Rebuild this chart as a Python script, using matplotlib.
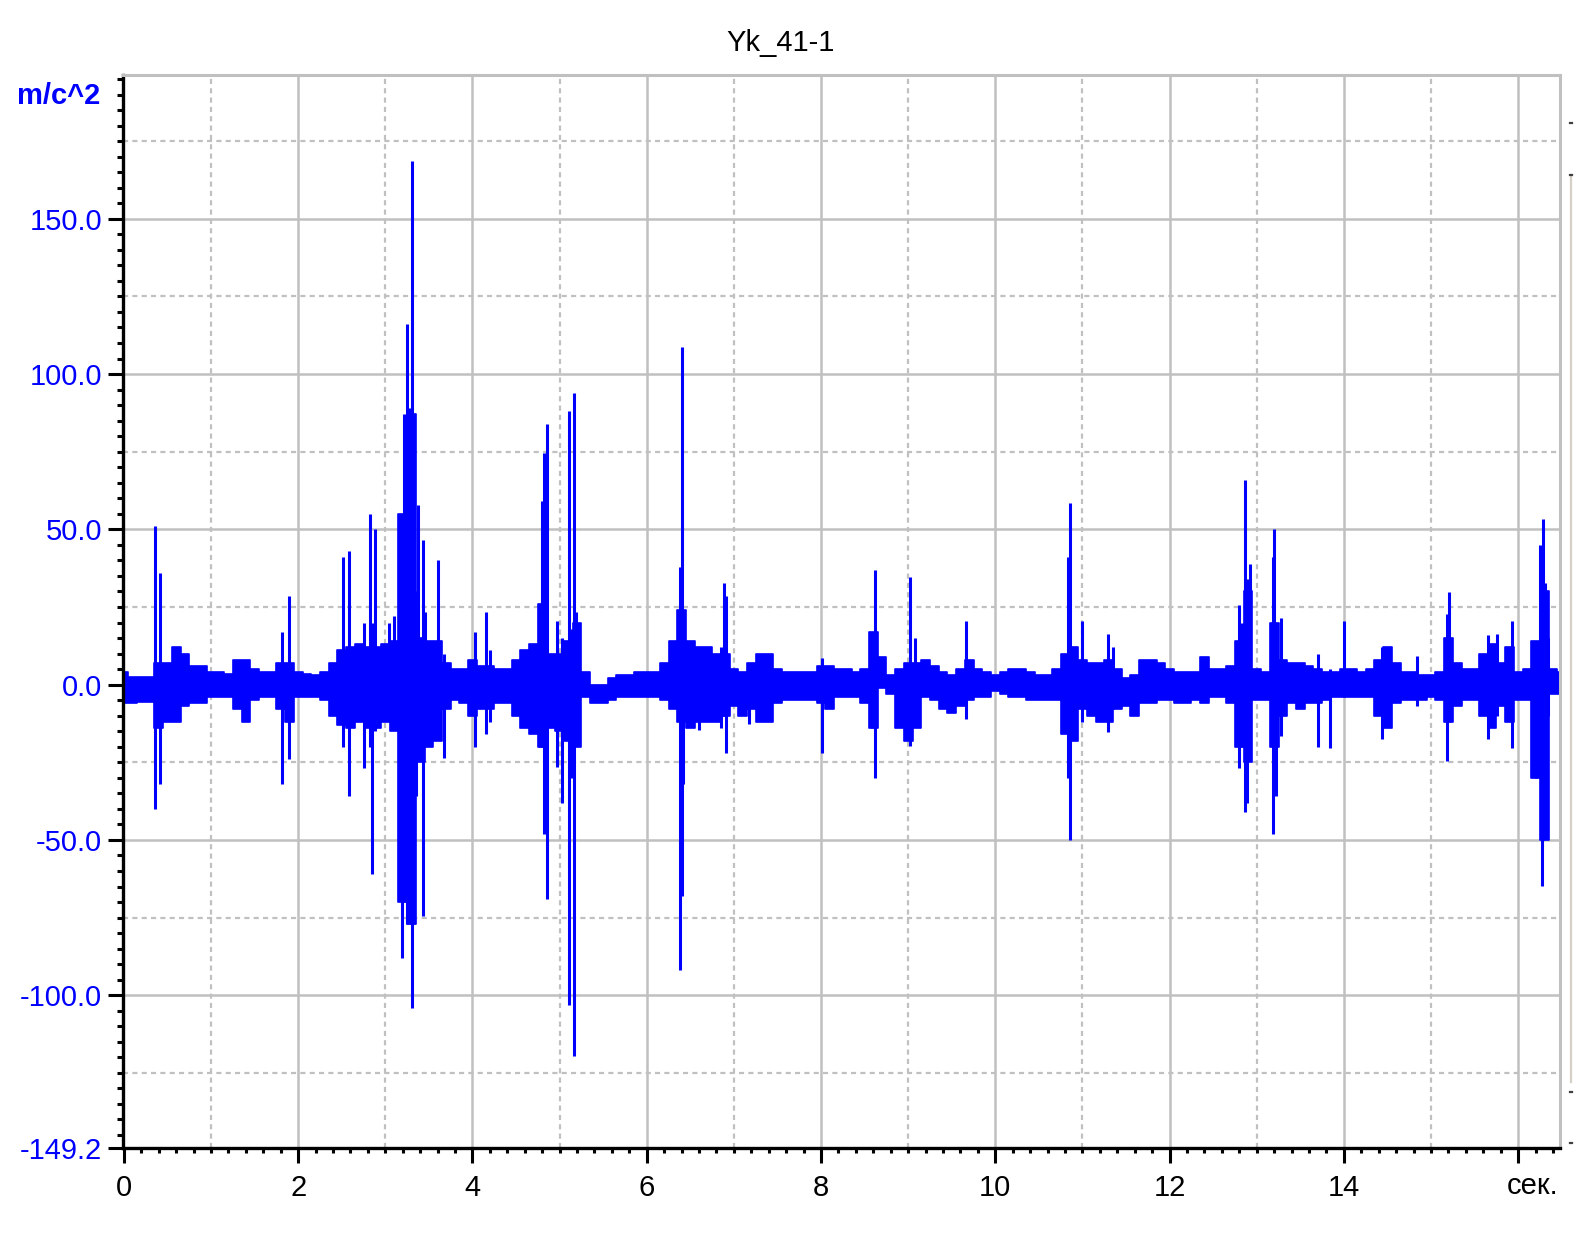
import numpy as np
import matplotlib
matplotlib.use("Agg")
import matplotlib.pyplot as plt
from matplotlib import font_manager
from matplotlib.lines import Line2D

# ---------------- data ----------------
title = "Yk_41-1"
y_unit = "m/c^2"
x_unit = "сек."

# dense vibration band: envelope every 0.1 s (upper / lower, m/c^2)
band_t = [round(0.1 * i, 1) for i in range(166)]
band_hi = [4, 2.5, 2.5, 2.5, 7, 7, 12, 10, 6, 6,
           4, 4, 3.5, 8, 8, 5, 4, 4, 7, 7,
           4, 3.5, 3, 4, 7, 11, 12, 13, 12, 12,
           13, 14, 55, 87, 15, 14, 14, 7, 5, 5,
           8, 6, 6, 5, 5, 8, 11, 13, 26, 10,
           10, 14, 20, 4, 0, 0, 2, 3, 3, 4,
           4, 4, 7, 14, 24, 14, 12, 12, 10, 10,
           5, 4, 7, 10, 10, 5, 4, 4, 4, 4,
           6, 6, 5, 5, 4, 5, 17, 9, 3, 5,
           7, 7, 8, 6, 4, 3, 5, 8, 5, 4,
           3, 4, 5, 5, 4, 3, 3, 5, 10, 12,
           8, 7, 7, 8, 5, 2, 3, 8, 8, 7,
           5, 4, 4, 4, 9, 5, 5, 6, 14, 30,
           5, 4, 20, 8, 7, 7, 6, 5, 4, 4,
           5, 5, 4, 5, 8, 12, 7, 4, 4, 3,
           3, 4, 15, 7, 5, 5, 10, 13, 7, 12,
           4, 5, 14, 30, 5, 4]
band_lo = [-6, -6, -5.5, -5.5, -14, -12, -12, -7, -6, -6,
           -4, -4, -4, -8, -12, -5, -4, -4, -8, -12,
           -4, -4, -4, -5, -10, -13, -14, -12, -14, -14,
           -12, -15, -70, -77, -25, -20, -18, -8, -5, -6,
           -10, -8, -8, -6, -6, -10, -14, -16, -20, -14,
           -15, -18, -20, -4, -6, -6, -5, -4, -4, -4,
           -4, -4, -5, -8, -12, -14, -12, -12, -12, -10,
           -7, -10, -8, -12, -12, -6, -5, -5, -5, -5,
           -6, -8, -4, -4, -4, -6, -14, -1, -3, -14,
           -18, -14, -4, -5, -8, -9, -7, -5, -4, -4,
           -2, -3, -4, -4, -5, -5, -5, -5, -16, -18,
           -8, -10, -12, -12, -8, -7, -10, -6, -6, -5,
           -5, -6, -6, -5, -6, -4, -4, -6, -20, -25,
           -5, -5, -20, -10, -6, -8, -6, -6, -5, -4,
           -4, -4, -4, -4, -10, -14, -6, -5, -5, -5,
           -4, -5, -12, -7, -5, -5, -10, -14, -7, -12,
           -5, -5, -30, -50, -3, -3]

# isolated spikes: time (s), peak up, peak down (m/c^2)
spike_t = [0.36, 0.42, 1.82, 1.89, 2.51, 2.58, 2.76, 2.82, 2.85, 2.88,
           3.04, 3.10, 3.16, 3.19, 3.22, 3.25, 3.28, 3.31, 3.33, 3.35,
           3.37, 3.43, 3.46, 3.61, 3.67, 4.03, 4.16, 4.20, 4.77, 4.80,
           4.82, 4.86, 4.97, 5.03, 5.11, 5.14, 5.17, 5.19, 6.38, 6.40,
           6.42, 6.60, 6.85, 6.89, 6.91, 7.17, 8.01, 8.58, 8.62, 9.02,
           9.08, 9.66, 10.83, 10.86, 11.00, 11.29, 11.35, 12.80, 12.83, 12.87,
           12.89, 12.92, 13.19, 13.20, 13.22, 13.28, 13.70, 13.84, 14.00, 14.44,
           14.84, 15.18, 15.21, 15.65, 15.76, 15.93, 16.21, 16.25, 16.27, 16.29,
           16.31, 16.34]
spike_hi = [51, 36, 17, 28.7, 41, 43, 20, 55, 20, 50,
            20, 22, 15, 55, 87, 116, 89, 168.6, 40, 30,
            58, 46.5, 23.5, 40, 10, 17, 23.5, 11, 26, 59,
            74.5, 84, 20.5, 15, 88, 18, 94, 23.5, 38, 108.6,
            14, 12, 12, 32.6, 28.5, 6, 8.6, 17, 37, 34.8,
            15, 20.4, 41, 58.6, 20.4, 16.3, 12, 25.5, 20, 65.8,
            34, 39, 41, 50.2, 20, 21.5, 10, 5, 20.4, 12,
            9.1, 22.8, 29.8, 16, 16.3, 20.4, 14, 45, 30, 53.4,
            32.8, 15]
spike_lo = [-40, -32, -32, -24, -20, -36, -27, -20, -61, -15,
            -10, -12, -16, -88, -70, -77, -77, -104, -77, -36,
            -20, -74.5, -15, -10, -23.5, -20, -16, -12, -20, -20,
            -48, -69, -26.5, -38, -103, -30, -119.6, -10, -91.8, -68,
            -32, -14.7, -14, -10, -22, -12.6, -22, -14, -30, -19.7,
            -10, -11, -30, -50, -12, -15.4, -8, -26.7, -20, -41,
            -38, -20, -48, -20, -35.8, -16.5, -20, -20.5, -4, -17.5,
            -7, -24.7, -12, -17.5, -10, -20.5, -30, -30, -64.8, -50,
            -20, -10]

x_ticks = [0, 2, 4, 6, 8, 10, 12, 14, 16]
x_ticklabels = ["0", "2", "4", "6", "8", "10", "12", "14", ""]
y_ticks = [150.0, 100.0, 50.0, 0.0, -50.0, -100.0, -149.2]
y_ticklabels = ["150.0", "100.0", "50.0", "0.0", "-50.0", "-100.0", "-149.2"]
y_min, y_max = -149.2, 196.3
x_min, x_max = -0.01, 16.48

# ---------------- style ----------------
names = {f.name for f in font_manager.fontManager.ttflist}
if "Liberation Sans Narrow" in names:
    FAM, FS = "Liberation Sans Narrow", 23
else:
    FAM, FS = "Liberation Sans", 21
plt.rcParams["font.family"] = [FAM, "DejaVu Sans"]

BLUE = "#0000ff"
GRID = "#c0c0c0"
W, H = 1596, 1236
fig = plt.figure(figsize=(W / 100, H / 100), dpi=100)
ax = fig.add_axes([123 / W, 1 - 1148 / H, (1560 - 123) / W, (1148 - 75) / H])

# grid (solid major, dashed minor)
for xv in range(2, 17, 2):
    ax.axvline(xv, color=GRID, lw=1.8, zorder=0)
for yv in [150, 100, 50, 0, -50, -100]:
    ax.axhline(yv, color=GRID, lw=1.8, zorder=0)
for xv in range(1, 17, 2):
    ax.axvline(xv, color=GRID, lw=1.6, ls=(0, (2.3, 1.9)), zorder=0)
for yv in [175, 125, 75, 25, -25, -75, -125]:
    ax.axhline(yv, color=GRID, lw=1.6, ls=(0, (2.3, 1.9)), zorder=0)

# signal
ax.fill_between(band_t, band_lo, band_hi, step="mid", color=BLUE, lw=0, zorder=2)
ax.step(band_t, band_hi, where="mid", color=BLUE, lw=1.2, zorder=2)
ax.step(band_t, band_lo, where="mid", color=BLUE, lw=1.2, zorder=2)
ax.vlines(spike_t, spike_lo, spike_hi, colors=BLUE, lw=2.2, zorder=3)

ax.set_xlim(x_min, x_max)
ax.set_ylim(y_min, y_max)

# spines
for s in ["top", "right"]:
    ax.spines[s].set_color(GRID)
    ax.spines[s].set_linewidth(2.2)
for s in ["left", "bottom"]:
    ax.spines[s].set_color("black")
    ax.spines[s].set_linewidth(2.4)

# ticks
ax.set_xticks(x_ticks)
ax.set_xticklabels(x_ticklabels, fontsize=FS, color="black")
ax.set_xticks(np.arange(0, 16.5, 0.2), minor=True)
ax.set_yticks(y_ticks)
ax.set_yticklabels(y_ticklabels, fontsize=FS, color=BLUE)
ax.set_yticks(np.arange(-145, 196, 5), minor=True)
ax.tick_params(axis="x", which="major", direction="out", length=11, width=2.2, pad=8)
ax.tick_params(axis="x", which="minor", direction="out", length=3.5, width=2.2)
ax.tick_params(axis="y", which="major", direction="out", length=11, width=2.2, pad=4)
ax.tick_params(axis="y", which="minor", direction="out", length=4, width=2.2)

# texts
fig.text(781 / W, 1 - 43 / H, title, ha="center", va="center", fontsize=FS, color="black")
fig.text(100 / W, 1 - 96 / H, y_unit, ha="right", va="center", fontsize=FS,
         color=BLUE, fontweight="bold")
fig.text(1558 / W, 1 - 1186 / H, x_unit, ha="right", va="center", fontsize=FS, color="black")

# small scrollbar artefact on the right edge
fig.add_artist(Line2D([1571 / W, 1571 / W], [1 - 175 / H, 1 - 1082 / H],
                      transform=fig.transFigure, color="#d4d0c8", lw=1.6))
for yy in [123, 175, 1092, 1143]:
    fig.add_artist(Line2D([1570 / W, 1572 / W], [1 - yy / H, 1 - yy / H],
                          transform=fig.transFigure, color="#404040", lw=1.6))

fig.savefig("out.png", dpi=100)
